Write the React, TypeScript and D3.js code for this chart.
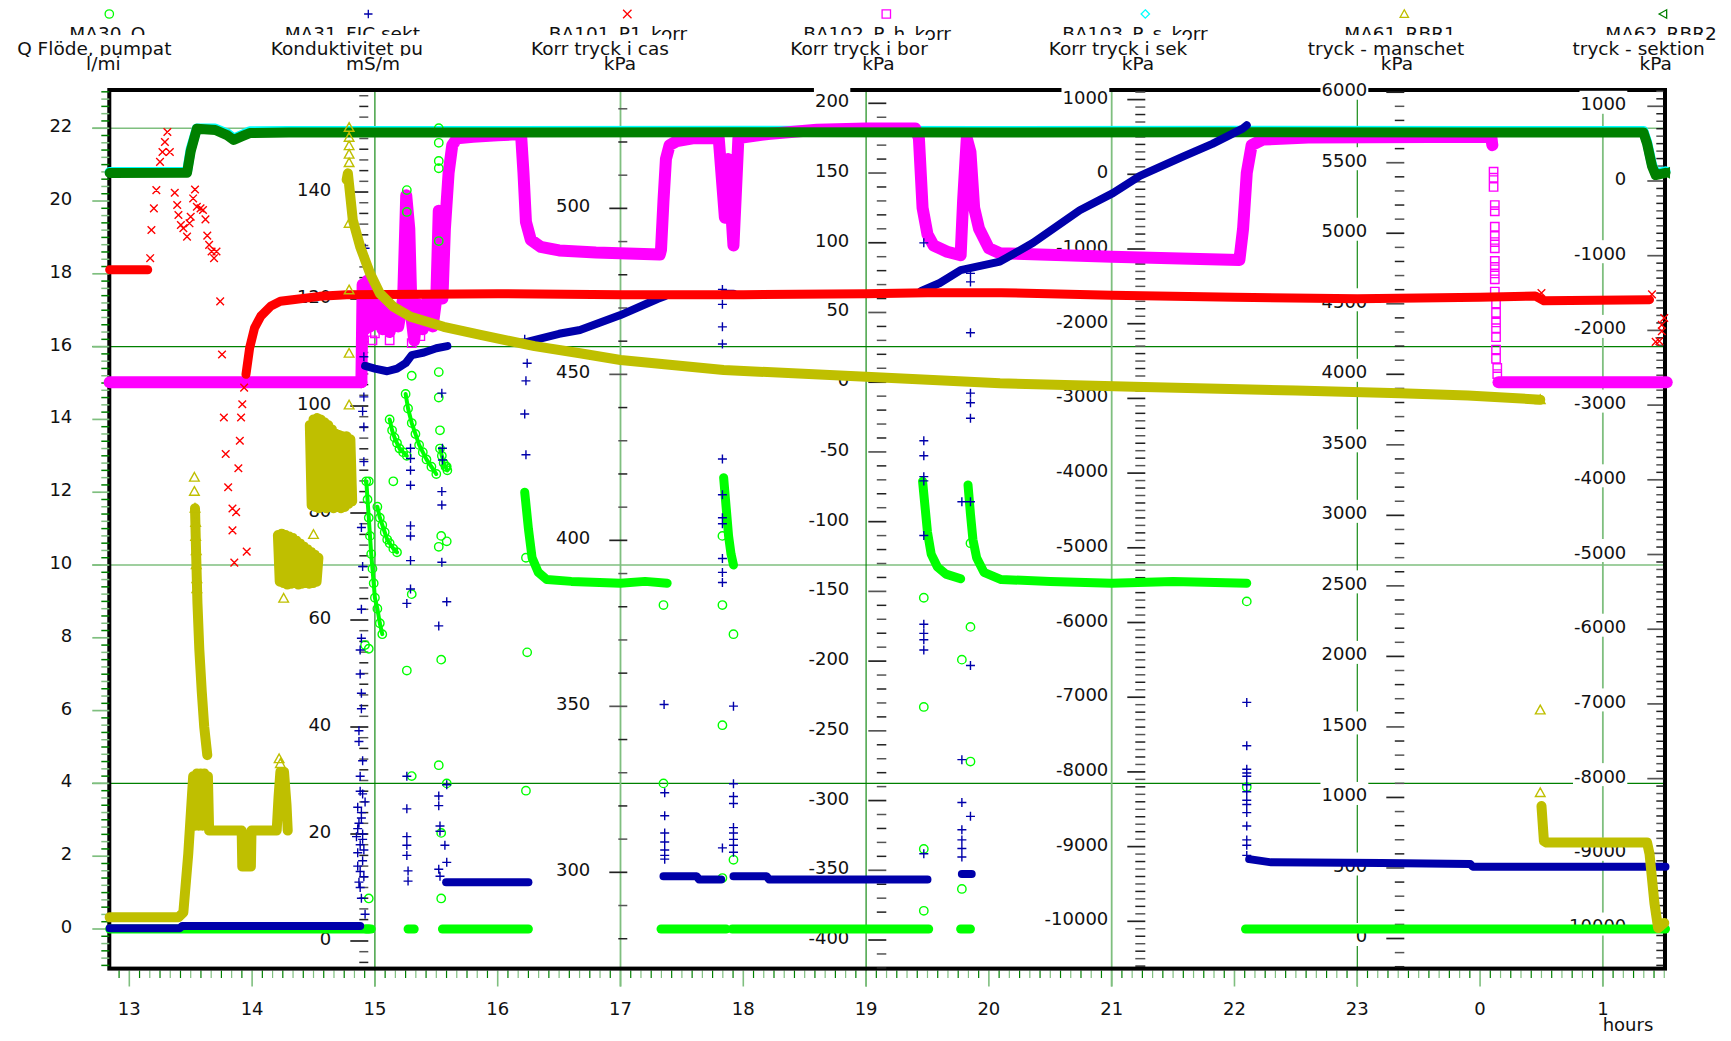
import React, { useEffect, useRef } from "react";
import * as d3 from "d3";

type Pt = [number, number];

const W = 1731;
const H = 1041;
const FONT = '"DejaVu Sans", Verdana, "Liberation Sans", sans-serif';

// ---------------- time axis (hours; 24 = 00 next day) ----------------
const timeDomain: [number, number] = [12.837, 25.506];
const hourTicks = [13, 14, 15, 16, 17, 18, 19, 20, 21, 22, 23, 24, 25];
const hourLabels = ["13", "14", "15", "16", "17", "18", "19", "20", "21", "22", "23", "0", "1"];
const timeGridHours = [15, 17, 19, 21, 23, 25];
const qGridValues = [22, 16, 10, 4];

// ---------------- MA30_Q  (l/mi) ----------------
const qDomain: [number, number] = [-1.088, 23.05];
const qTicks = [0, 2, 4, 6, 8, 10, 12, 14, 16, 18, 20, 22];
const qBands: Pt[][] = [
  [[12.84, 0], [14.95, 0]],
  [[14.93, 0], [14.97, 0]],
  [[15.27, 0], [15.32, 0]],
  [[15.55, 0], [16.25, 0]],
  [[16.22, 12.0], [16.25, 11.0], [16.28, 10.2], [16.33, 9.8], [16.4, 9.6], [16.6, 9.55], [17.0, 9.5], [17.2, 9.55], [17.38, 9.5]],
  [[17.33, 0], [17.86, 0]],
  [[17.84, 12.4], [17.86, 11.6], [17.88, 10.8], [17.9, 10.3], [17.92, 10.0]],
  [[17.91, 0], [19.51, 0]],
  [[19.46, 12.3], [19.48, 11.6], [19.5, 10.9], [19.53, 10.3], [19.58, 9.95], [19.65, 9.75], [19.77, 9.62]],
  [[19.77, 0], [19.85, 0]],
  [[19.83, 12.2], [19.85, 11.4], [19.87, 10.7], [19.9, 10.2], [19.96, 9.8], [20.1, 9.6], [20.5, 9.55], [21.0, 9.5], [21.5, 9.55], [22.1, 9.5]],
  [[22.09, 0], [25.51, 0]],
];
const qChains: Pt[][] = [
  [[14.93, 12.3], [14.94, 11.8], [14.95, 11.3], [14.96, 10.8], [14.97, 10.3], [14.98, 9.9], [14.99, 9.5], [15.0, 9.1], [15.02, 8.8], [15.04, 8.4], [15.06, 8.1]],
  [[15.02, 11.6], [15.04, 11.3], [15.06, 11.1], [15.08, 10.9], [15.1, 10.7], [15.12, 10.6], [15.15, 10.45], [15.18, 10.35]],
  [[15.12, 14.0], [15.14, 13.7], [15.16, 13.5], [15.18, 13.35], [15.2, 13.2], [15.23, 13.1], [15.26, 13.0]],
  [[15.25, 14.7], [15.27, 14.3], [15.3, 13.9], [15.33, 13.6], [15.36, 13.3], [15.39, 13.1], [15.42, 12.9], [15.46, 12.7], [15.5, 12.5]],
  [[15.53, 13.2], [15.545, 13.0], [15.56, 12.8], [15.575, 12.7], [15.59, 12.6]],
];
const qPoints: Pt[] = [
  [14.92, 7.8], [14.95, 7.7], [14.95, 0.84], [15.26, 7.1], [15.3, 4.2], [15.3, 9.2], [15.52, 4.5], [15.54, 7.4],
  [15.54, 0.84], [15.585, 4.0], [15.52, 10.5], [15.54, 10.8], [15.585, 10.65], [15.54, 2.64], [15.52, 22.0],
  [15.52, 21.6], [15.52, 21.1], [15.52, 20.9], [15.26, 20.3], [15.26, 19.7], [15.52, 18.9], [15.3, 15.2],
  [15.52, 15.3], [15.52, 14.6], [15.53, 13.7], [15.15, 12.3], [14.95, 12.3], [15.585, 12.7], [16.23, 10.2],
  [16.24, 7.6], [16.23, 3.8], [17.35, 8.9], [17.35, 4.0], [17.83, 8.9], [17.83, 5.6], [17.92, 8.1], [17.83, 1.4],
  [17.92, 1.9], [17.83, 10.8], [19.47, 9.1], [19.47, 6.1], [19.47, 2.2], [19.47, 0.5], [19.78, 7.4], [19.78, 1.1],
  [19.85, 10.6], [19.85, 8.3], [19.85, 4.6], [22.1, 9.0], [22.1, 3.9],
];

// ---------------- MA31_FIC sekt (mS/m) ----------------
const ficDomain: [number, number] = [-5.16, 159.07];
const ficTicks = [0, 20, 40, 60, 80, 100, 120, 140];
const ficBands: Pt[][] = [
  [[12.84, 2.4], [13.41, 2.4], [13.43, 2.8], [14.88, 2.8]],
  [[14.92, 107.5], [15.0, 107.0], [15.1, 106.5], [15.18, 107.0], [15.25, 108.0], [15.3, 109.5], [15.4, 110.0], [15.5, 110.8], [15.59, 111.2]],
  [[15.58, 11.0], [16.25, 11.0]],
  [[16.24, 112.0], [16.5, 113.5], [16.67, 114.2], [17.0, 117.0], [17.3, 120.0], [17.36, 120.5]],
  [[17.35, 12.1], [17.62, 12.1], [17.64, 11.5], [17.82, 11.5]],
  [[17.84, 121.0], [17.92, 121.0]],
  [[17.92, 12.1], [18.19, 12.1], [18.21, 11.5], [19.5, 11.5]],
  [[19.45, 121.5], [19.6, 123.0], [19.77, 125.4], [20.09, 127.0], [20.36, 130.5], [20.74, 136.6], [21.01, 139.8], [21.23, 143.0], [21.58, 146.6], [21.82, 149.0], [22.07, 151.9], [22.1, 152.5]],
  [[19.78, 12.5], [19.86, 12.5]],
  [[22.12, 15.3], [22.3, 14.7], [23.2, 14.6], [23.92, 14.4], [23.94, 13.9], [25.51, 13.9]],
];
const ficPoints: Pt[] = [
  [14.92, 129.5], [14.91, 109.2], [14.91, 101.7], [14.9, 99.0], [14.91, 96.1], [14.91, 89.6], [14.89, 77.3], [14.9, 70],
  [14.89, 62], [14.89, 56.6], [14.88, 54.4], [14.88, 49.9], [14.89, 46.3], [14.89, 43.4], [14.87, 39.3], [14.87, 37.3],
  [14.9, 33.7], [14.88, 30.8], [14.88, 28], [14.86, 25], [14.89, 23], [14.86, 21], [14.9, 20], [14.88, 18], [14.86, 16.5],
  [14.9, 15], [14.88, 13], [14.91, 12], [14.87, 11], [14.9, 19], [14.89, 24], [14.92, 26], [14.86, 14], [14.87, 22],
  [14.91, 17], [14.85, 19.5], [14.9, 27.5], [14.88, 10], [14.89, 8], [14.92, 5],
  [15.29, 92.1], [15.29, 90.2], [15.29, 88], [15.29, 85.2], [15.29, 77.6], [15.29, 75.7], [15.29, 71.1], [15.29, 65.8],
  [15.26, 63.1], [15.26, 30.8], [15.26, 24.7], [15.26, 19.5], [15.26, 17.9], [15.26, 16], [15.27, 13.1], [15.27, 11.2],
  [15.545, 102.4], [15.55, 92.1], [15.55, 89.9], [15.545, 84], [15.545, 81.5], [15.545, 70.8], [15.585, 63.4],
  [15.52, 58.9], [15.52, 27.1], [15.52, 25.3], [15.53, 21.5], [15.53, 20.5], [15.57, 17.9], [15.585, 14.7], [15.52, 13.4],
  [15.53, 12.1], [15.585, 29.2],
  [16.22, 112.5], [16.23, 104.7], [16.22, 98.5], [16.23, 90.9], [16.24, 108],
  [17.355, 44.2], [17.36, 27.7], [17.36, 23.4], [17.36, 20.2], [17.36, 18.5], [17.36, 17], [17.36, 16], [17.36, 15.3],
  [17.83, 121.8], [17.83, 119], [17.83, 114.8], [17.83, 111.6], [17.83, 90.1], [17.83, 83.4], [17.83, 79.1], [17.83, 78],
  [17.83, 71.5], [17.83, 68.9], [17.83, 67], [17.83, 17.4],
  [17.92, 43.9], [17.92, 29.4], [17.92, 27], [17.92, 25.7], [17.92, 21.2], [17.92, 20.2], [17.92, 19], [17.92, 17.9], [17.92, 16.6],
  [19.47, 130.5], [19.47, 93.5], [19.47, 90.7], [19.47, 86.8], [19.47, 86], [19.47, 75.8], [19.47, 59.2], [19.47, 57.5],
  [19.47, 56.3], [19.47, 54.4], [19.47, 16.3],
  [19.85, 124.8], [19.85, 123.2], [19.85, 113.7], [19.85, 102.4], [19.85, 100.6], [19.85, 97.7], [19.78, 82.1], [19.85, 82.1],
  [19.85, 51.5], [19.78, 33.9], [19.78, 25.9], [19.85, 23.3], [19.78, 20.8], [19.78, 18.9], [19.78, 17.3], [19.78, 15.7],
  [22.1, 44.6], [22.1, 36.5], [22.1, 32.1], [22.1, 31.4], [22.1, 30.8], [22.1, 29.2], [22.1, 27.9], [22.1, 26.3],
  [22.1, 25.5], [22.1, 24], [22.1, 21.5], [22.1, 18.9], [22.1, 17.9], [22.1, 16],
];

// ---------------- BA101_P1_korr (kPa) ----------------
const p1Domain: [number, number] = [271.0, 535.66];
const p1Ticks = [300, 350, 400, 450, 500];
const p1Bands: Pt[][] = [
  [[12.84, 481.5], [13.15, 481.5]],
  [[13.95, 450], [13.98, 458], [14.02, 464], [14.07, 467.5], [14.15, 470.5], [14.23, 472], [14.33, 472.5], [14.55, 473.5],
   [14.77, 474], [16.0, 474.3], [17.0, 474], [18.0, 474], [19.0, 474.3], [19.5, 474.6], [20.1, 474.6], [21.0, 473.8],
   [22.0, 473.2], [23.0, 472.8], [24.0, 473.2], [24.45, 473.6], [24.52, 472.2], [25.38, 472.5]],
];
const p1Points: Pt[] = [
  [13.17, 485], [13.18, 493.5], [13.2, 500], [13.22, 505.5], [13.25, 514], [13.27, 517], [13.29, 520], [13.31, 523],
  [13.33, 517], [13.37, 504.7], [13.39, 501], [13.4, 498], [13.42, 495], [13.44, 494], [13.47, 491.5], [13.49, 495.5],
  [13.5, 497.5], [13.52, 503], [13.535, 505.7], [13.55, 500.5], [13.58, 500], [13.6, 499.5], [13.62, 496.7], [13.635, 491.8],
  [13.65, 489], [13.67, 487], [13.69, 485], [13.71, 487], [13.74, 472], [13.755, 456], [13.77, 437], [13.785, 426],
  [13.805, 416], [13.84, 409.6], [13.87, 408.5], [13.84, 403], [13.855, 393.3], [13.956, 396.6],
  [13.888, 421.7], [13.9, 430], [13.91, 437], [13.92, 441], [13.935, 446],
  [24.5, 474.5],
  [25.4, 474.1], [25.48, 464.9], [25.48, 463], [25.43, 459.8], [25.46, 460], [25.5, 467],
];

// ---------------- BA102_P_h_korr (kPa) ----------------
const phDomain: [number, number] = [-420.5, 209.54];
const phTicks = [-400, -350, -300, -250, -200, -150, -100, -50, 0, 50, 100, 150, 200];
const phBands: Pt[][] = [
  [[12.84, 0], [14.89, 0]],
  [[14.89, 0], [14.9, 70], [14.92, 38], [14.94, 73], [14.96, 40], [14.98, 66], [15.0, 42], [15.03, 55], [15.06, 38],
   [15.09, 52], [15.12, 36], [15.15, 50], [15.19, 40], [15.23, 60], [15.255, 134], [15.28, 110], [15.3, 45], [15.32, 30],
   [15.35, 56], [15.39, 38], [15.43, 60], [15.47, 40], [15.5, 60], [15.52, 123], [15.55, 60], [15.57, 110], [15.6, 150],
   [15.63, 170], [15.67, 175], [15.8, 176], [16.0, 177], [16.19, 178], [16.21, 150], [16.23, 115], [16.27, 102],
   [16.35, 97], [16.5, 94.5], [16.8, 93], [17.32, 91.5], [17.33, 95], [17.35, 130], [17.37, 160], [17.4, 170],
   [17.46, 173], [17.6, 175], [17.8, 175], [17.85, 118], [17.875, 160], [17.92, 98], [17.96, 175], [18.2, 178],
   [18.6, 181], [19.0, 182], [19.4, 182], [19.43, 175], [19.46, 125], [19.5, 106], [19.55, 98], [19.66, 93.6],
   [19.77, 91], [19.79, 130], [19.82, 175], [19.85, 165], [19.88, 125], [19.92, 110], [20.0, 96], [20.09, 92.5],
   [21.0, 90], [22.04, 87.6], [22.07, 110], [22.1, 150], [22.14, 170], [22.23, 174], [22.6, 175.5], [24.09, 176], [24.1, 170]],
  [[24.15, 0], [25.52, 0]],
];
const phPoints: Pt[] = [
  [24.1, 173], [24.11, 151], [24.11, 146.6], [24.11, 140], [24.12, 127], [24.12, 122.6], [24.12, 111.5], [24.12, 104.8],
  [24.12, 100.5], [24.12, 96], [24.12, 87], [24.12, 82.6], [24.12, 78], [24.12, 73.8], [24.12, 65], [24.13, 56.4],
  [24.13, 49.8], [24.13, 42.9], [24.13, 38.7], [24.13, 32.3], [24.13, 23.4], [24.13, 16.8], [24.14, 10.2], [24.14, 5.8],
  [15.37, 60], [15.37, 33], [15.0, 35], [14.98, 30], [15.12, 30], [15.3, 28],
];

// ---------------- BA103_P_s_korr (kPa) ----------------
const psDomain: [number, number] = [-10633, 1128.5];
const psTicks = [-10000, -9000, -8000, -7000, -6000, -5000, -4000, -3000, -2000, -1000, 0, 1000];
const psBands: Pt[][] = [
  [[12.84, 31], [13.47, 34], [13.5, 340], [13.55, 613], [13.7, 613], [13.8, 545], [13.85, 479], [13.92, 530], [13.98, 575],
   [14.3, 580], [16, 580], [18, 582], [20, 580], [22, 582], [24, 580], [25.33, 580], [25.36, 430], [25.4, 130], [25.43, 11], [25.51, 40]],
];
const psPoints: Pt[] = [];

// ---------------- MA61_RBR1 (kPa) ----------------
const r1Domain: [number, number] = [-213.4, 6015.6];
const r1Ticks = [0, 500, 1000, 1500, 2000, 2500, 3000, 3500, 4000, 4500, 5000, 5500, 6000];
const r1Bands: Pt[][] = [
  [[12.84, 150], [13.4, 150], [13.44, 185], [13.48, 600], [13.52, 1150], [13.535, 800], [13.55, 1170], [13.565, 800],
   [13.58, 1170], [13.595, 800], [13.61, 1170], [13.625, 800], [13.64, 1150], [13.65, 765], [13.915, 765], [13.92, 510],
   [13.99, 510], [13.995, 765], [14.2, 765], [14.215, 1000], [14.23, 1180], [14.26, 1180], [14.28, 950], [14.29, 765]],
  [[13.535, 3050], [13.545, 2700], [13.555, 2375], [13.57, 2050], [13.59, 1750], [13.61, 1500], [13.635, 1300]],
  [[14.21, 2860], [14.225, 2530], [14.24, 2870], [14.255, 2520], [14.27, 2860], [14.285, 2510], [14.3, 2850], [14.315, 2515],
   [14.33, 2840], [14.345, 2520], [14.36, 2820], [14.375, 2510], [14.39, 2800], [14.405, 2515], [14.42, 2780], [14.435, 2520],
   [14.45, 2760], [14.465, 2515], [14.48, 2740], [14.495, 2520], [14.51, 2720], [14.525, 2530], [14.54, 2700]],
  [[14.47, 3640], [14.485, 3070], [14.5, 3680], [14.515, 3060], [14.53, 3690], [14.545, 3050], [14.56, 3680], [14.575, 3060],
   [14.59, 3660], [14.605, 3050], [14.62, 3640], [14.635, 3060], [14.65, 3610], [14.665, 3050], [14.68, 3580], [14.695, 3060],
   [14.71, 3570], [14.725, 3050], [14.74, 3560], [14.755, 3060], [14.77, 3560], [14.785, 3080], [14.8, 3540], [14.815, 3100]],
  [[14.77, 5380], [14.78, 5425], [14.82, 5094], [14.88, 4905], [14.96, 4716], [15.04, 4574], [15.15, 4479], [15.29, 4408],
   [15.56, 4337], [15.86, 4279], [16.3, 4200], [16.67, 4149], [17.0, 4101], [17.84, 4030], [19.0, 3983], [20.09, 3936],
   [21.18, 3912], [22.5, 3885], [23.35, 3865], [23.9, 3850], [24.49, 3820]],
  [[24.5, 940], [24.52, 690], [24.54, 681], [25.36, 681], [25.38, 600], [25.42, 250], [25.45, 74], [25.5, 110]],
];
const r1Points: Pt[] = [
  [13.53, 3270], [13.53, 3170], [13.535, 3050], [13.54, 2950], [13.54, 2850], [13.545, 2750], [13.545, 2650], [13.55, 2550],
  [13.55, 2480], [14.22, 1274], [14.23, 1240], [14.257, 2412], [14.5, 2864], [14.79, 5750], [14.79, 5680], [14.79, 5620],
  [14.79, 5560], [14.79, 5500], [14.79, 5070], [14.79, 4598], [14.79, 4149], [14.79, 3782], [24.49, 1620], [24.49, 1034],
  [24.49, 3820],
];

// ---------------- MA62_RBR2 (kPa) ----------------
const r2Domain: [number, number] = [-10543, 1218];
const r2Ticks = [-10000, -9000, -8000, -7000, -6000, -5000, -4000, -3000, -2000, -1000, 0, 1000];
const r2Bands: Pt[][] = [
  [[12.84, 107], [13.47, 110], [13.5, 400], [13.55, 700], [13.7, 683], [13.8, 610], [13.85, 549], [13.92, 600], [13.98, 642],
   [14.3, 650], [16, 650], [18, 652], [20, 650], [22, 652], [24, 650], [25.33, 650], [25.36, 500], [25.4, 200], [25.43, 80], [25.51, 110]],
];
const r2Points: Pt[] = [[25.51, 110]];

// ---------------- series table ----------------
type MarkerKind = "circle" | "plus" | "cross" | "square" | "diamond" | "triUp" | "triLeft";
interface SeriesDef {
  name: string; desc: string; unit: string; color: string; marker: MarkerKind;
  domain: [number, number]; ticks: number[]; minor: number;
  bands: Pt[][]; chains: Pt[][]; points: Pt[]; bandWidth: number;
  axis: number; header: [number, number, number]; tickColor: string; majorLen: number; minorLen: number;
}

const SERIES: SeriesDef[] = [
  { name: "MA30_Q", desc: "Q Flöde, pumpat", unit: "l/mi", color: "#00ff00", marker: "circle", domain: qDomain, ticks: qTicks,
    minor: 0.2, bands: qBands, chains: qChains, points: qPoints, bandWidth: 9, axis: 0, header: [-2, -15, -6],
    tickColor: "green", majorLen: 17, minorLen: 8 },
  { name: "MA31_FIC sekt", desc: "Konduktivitet pu", unit: "mS/m", color: "#0000aa", marker: "plus", domain: ficDomain, ticks: ficTicks,
    minor: 2, bands: ficBands, chains: [], points: ficPoints, bandWidth: 8, axis: 1, header: [-16, -21.5, 4.7],
    tickColor: "#222", majorLen: 18, minorLen: 9 },
  { name: "BA101_P1_korr", desc: "Korr tryck i cas", unit: "kPa", color: "#ff0000", marker: "cross", domain: p1Domain, ticks: p1Ticks,
    minor: 10, bands: p1Bands, chains: [], points: p1Points, bandWidth: 9, axis: 2, header: [-9.3, -27.3, -7.3],
    tickColor: "#222", majorLen: 18, minorLen: 9 },
  { name: "BA102_P_h_korr", desc: "Korr tryck i bor", unit: "kPa", color: "#ff00ff", marker: "square", domain: phDomain, ticks: phTicks,
    minor: 10, bands: phBands, chains: [], points: phPoints, bandWidth: 12, axis: 3, header: [-9.3, -27.3, -7.8],
    tickColor: "#222", majorLen: 18, minorLen: 9.5 },
  { name: "BA103_P_s_korr", desc: "Korr tryck i sek", unit: "kPa", color: "#00ffff", marker: "diamond", domain: psDomain, ticks: psTicks,
    minor: 100, bands: psBands, chains: [], points: psPoints, bandWidth: 10, axis: 4, header: [-10.3, -27.3, -7.3],
    tickColor: "#222", majorLen: 18, minorLen: 10 },
  { name: "MA61_RBR1", desc: "tryck - manschet", unit: "kPa", color: "#bfbf00", marker: "triUp", domain: r1Domain, ticks: r1Ticks,
    minor: 100, bands: r1Bands, chains: [], points: r1Points, bandWidth: 10, axis: 5, header: [-4.3, -18.3, -7.3],
    tickColor: "#222", majorLen: 18, minorLen: 9.5 },
  { name: "MA62_RBR2", desc: "tryck - sektion", unit: "kPa", color: "#008000", marker: "triLeft", domain: r2Domain, ticks: r2Ticks,
    minor: 100, bands: r2Bands, chains: [], points: r2Points, bandWidth: 10, axis: 6, header: [-2.3, -24.6, -7.6],
    tickColor: "#222", majorLen: 16, minorLen: 7 },
];
const DRAW_ORDER = [4, 3, 0, 6, 1, 2, 5];

// ---------------- layout ----------------
const FRAME = { left: 109.3, right: 1665, top: 90, bottom: 968.6 };
const AXIS_STEP = 259;
const axisX = (i: number) => FRAME.left + AXIS_STEP * i;

function markerPath(kind: MarkerKind, cx: number, cy: number, s: number): string {
  switch (kind) {
    case "circle": return `M${cx - s},${cy}a${s},${s} 0 1,0 ${2 * s},0a${s},${s} 0 1,0 ${-2 * s},0`;
    case "plus": return `M${cx - s},${cy}H${cx + s}M${cx},${cy - s}V${cy + s}`;
    case "cross": return `M${cx - s},${cy - s}L${cx + s},${cy + s}M${cx - s},${cy + s}L${cx + s},${cy - s}`;
    case "square": return `M${cx - s},${cy - s}h${2 * s}v${2 * s}h${-2 * s}Z`;
    case "diamond": return `M${cx},${cy - s}L${cx + s},${cy}L${cx},${cy + s}L${cx - s},${cy}Z`;
    case "triUp": return `M${cx},${cy - s}L${cx + s},${cy + s * 0.8}L${cx - s},${cy + s * 0.8}Z`;
    case "triLeft": return `M${cx - s},${cy}L${cx + s * 0.8},${cy - s}L${cx + s * 0.8},${cy + s}Z`;
  }
  return "";
}
const markerSize: Record<MarkerKind, number> = { circle: 4.2, plus: 4.5, cross: 3.8, square: 4.2, diamond: 4.5, triUp: 4.8, triLeft: 4.8 };

function draw(svgEl: SVGSVGElement) {
  const svg = d3.select(svgEl);
  svg.selectAll("*").remove();
  svg.append("rect").attr("width", W).attr("height", H).attr("fill", "#fff");

  const x = d3.scaleLinear().domain(timeDomain).range([FRAME.left, FRAME.right]);
  const yOf = (s: SeriesDef) => d3.scaleLinear().domain(s.domain).range([FRAME.bottom, FRAME.top]);
  const yQ = yOf(SERIES[0]);

  // grid lines
  qGridValues.forEach((v, i) => {
    svg.append("line").attr("x1", FRAME.left - 17).attr("x2", FRAME.right).attr("y1", yQ(v)).attr("y2", yQ(v))
      .attr("stroke", i % 2 === 0 ? "#7fbf7f" : "#008000").attr("stroke-width", i % 2 === 0 ? 1.6 : 1.1);
  });
  timeGridHours.forEach((h, i) => {
    svg.append("line").attr("x1", x(h)).attr("x2", x(h)).attr("y1", FRAME.top).attr("y2", 986.5)
      .attr("stroke", i % 2 === 1 ? "#7fbf7f" : "#008000").attr("stroke-width", i % 2 === 1 ? 1.8 : 1.1);
  });

  // x ticks every 5 minutes
  const tks = d3.range(Math.ceil(timeDomain[0] * 12), Math.floor(timeDomain[1] * 12) + 1).map((k) => k / 12);
  tks.forEach((t, i) => {
    const isHour = Math.abs(t - Math.round(t)) < 1e-6;
    svg.append("line").attr("x1", x(t)).attr("x2", x(t)).attr("y1", FRAME.bottom + 2).attr("y2", isHour ? 986.5 : 978)
      .attr("stroke", i % 2 ? "#7fbf7f" : "#008000").attr("stroke-width", isHour ? 1.6 : 1.2);
  });

  // frame
  svg.append("rect").attr("x", FRAME.left).attr("y", FRAME.top).attr("width", FRAME.right - FRAME.left)
    .attr("height", FRAME.bottom - FRAME.top).attr("fill", "none").attr("stroke", "#000").attr("stroke-width", 4);

  // y axes ticks
  SERIES.forEach((s) => {
    const y = yOf(s);
    const ax = axisX(s.axis);
    const vals = d3.range(Math.ceil(s.domain[0] / s.minor - 1e-9), Math.floor(s.domain[1] / s.minor + 1e-9) + 1).map((k) => k * s.minor);
    const majorStep = s.ticks[1] - s.ticks[0];
    vals.forEach((v, i) => {
      const r = v / majorStep;
      const major = Math.abs(r - Math.round(r)) < 1e-6;
      const col = s.tickColor === "green" ? (i % 2 ? "#7fbf7f" : "#008000") : (i % 2 ? "#555" : "#222");
      svg.append("line").attr("x1", ax - (major ? s.majorLen : s.minorLen)).attr("x2", ax).attr("y1", y(v)).attr("y2", y(v))
        .attr("stroke", col).attr("stroke-width", major ? 1.7 : 1.5);
    });
  });

  // tick labels with white background
  const labels = svg.append("g").attr("font-family", FONT).attr("font-size", 18).attr("fill", "#111");
  SERIES.forEach((s) => {
    const y = yOf(s);
    const ax = axisX(s.axis);
    s.ticks.forEach((v) => {
      const by = y(v) + 4;
      const t = labels.append("text").attr("x", ax - 37).attr("y", by).attr("text-anchor", "end").text(String(v));
      const bb = (t.node() as SVGTextElement).getBBox();
      labels.insert("rect", () => t.node() as any).attr("x", bb.x - 1).attr("y", by - 19.5).attr("width", bb.width + 2)
        .attr("height", 23).attr("fill", "#fff");
    });
  });
  hourTicks.forEach((h, i) => {
    labels.append("text").attr("x", x(h)).attr("y", 1014.5).attr("text-anchor", "middle").text(hourLabels[i]);
  });
  labels.append("text").attr("x", 1628).attr("y", 1031).attr("text-anchor", "middle").text("hours");

  // data
  const dataG = svg.append("g");
  DRAW_ORDER.forEach((si) => {
    const s = SERIES[si];
    const y = yOf(s);
    const line = d3.line<Pt>().x((d) => x(d[0])).y((d) => y(d[1]));
    const g = dataG.append("g");
    s.bands.forEach((b) => {
      g.append("path").attr("d", line(b) || "").attr("fill", "none").attr("stroke", s.color)
        .attr("stroke-width", s.bandWidth).attr("stroke-linejoin", "round").attr("stroke-linecap", "round");
    });
    s.chains.forEach((c) => {
      g.append("path").attr("d", line(c) || "").attr("fill", "none").attr("stroke", s.color)
        .attr("stroke-width", 4).attr("stroke-linejoin", "round").attr("stroke-linecap", "round");
    });
    const pts: Pt[] = [...s.points, ...s.chains.flat()];
    const ms = markerSize[s.marker];
    const d = pts.map((p) => markerPath(s.marker, x(p[0]), y(p[1]), ms)).join("");
    if (d) g.append("path").attr("d", d).attr("fill", "none").attr("stroke", s.color).attr("stroke-width", 1.4);
  });

  // header
  const hdr = svg.append("g").attr("font-family", FONT).attr("font-size", 18.5).attr("fill", "#111");
  SERIES.forEach((s) => {
    const ax = axisX(s.axis);
    hdr.append("path").attr("d", markerPath(s.marker, ax, 14, 4.2)).attr("fill", "none").attr("stroke", s.color).attr("stroke-width", 1.3);
    hdr.append("text").attr("x", ax + s.header[0]).attr("y", 40).attr("text-anchor", "middle").text(s.name);
    const t2 = hdr.append("text").attr("x", ax + s.header[1]).attr("y", 55).attr("text-anchor", "middle").text(s.desc);
    const b2 = (t2.node() as SVGTextElement).getBBox();
    hdr.insert("rect", () => t2.node() as any).attr("x", b2.x).attr("y", 35).attr("width", b2.width).attr("height", 22).attr("fill", "#fff");
    const t3 = hdr.append("text").attr("x", ax + s.header[2]).attr("y", 70).attr("text-anchor", "middle").text(s.unit);
    const b3 = (t3.node() as SVGTextElement).getBBox();
    hdr.insert("rect", () => t3.node() as any).attr("x", b3.x - 4).attr("y", 56).attr("width", b3.width + 8).attr("height", 20).attr("fill", "#fff");
  });
}

export default function App() {
  const ref = useRef<SVGSVGElement>(null);
  useEffect(() => {
    if (ref.current) draw(ref.current);
  }, []);
  return (
    <svg ref={ref} width={W} height={H}
      style={{ position: "absolute", left: 0, top: 0, display: "block", background: "#fff" }} />
  );
}
